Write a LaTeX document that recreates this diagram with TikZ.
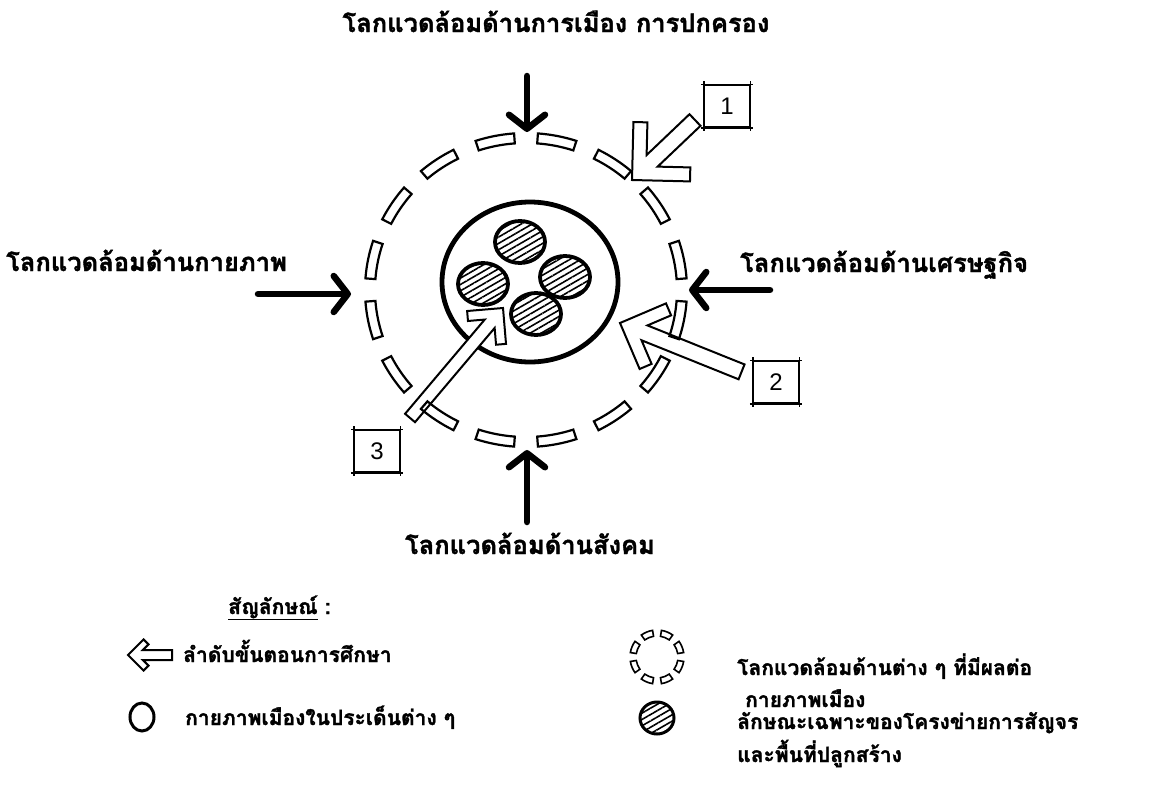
\documentclass[tikz,border=0pt]{standalone}
\usepackage{fontspec}
\setmainfont{Liberation Sans}
\newfontfamily\thai[Script=Thai, BoldFeatures={FakeBold=1.5}]{Loma}
\usetikzlibrary{arrows.meta,patterns.meta,calc}
\newcommand{\harrowshape}[6]{%
  \begin{scope}[shift={(#1)}, rotate=#2]
    \draw[harrowstyle] (0,0) -- ({-#5*0.7071},{#5*0.7071})
      -- ({-(#5+#6)*0.7071},{(#5-#6)*0.7071})
      -- ({-(1.4142*#6+#4)},{#4}) -- ({-#3},{#4}) -- ({-#3},{-#4})
      -- ({-(1.4142*#6+#4)},{-#4})
      -- ({-(#5+#6)*0.7071},{-(#5-#6)*0.7071})
      -- ({-#5*0.7071},{-#5*0.7071}) -- cycle;
  \end{scope}}
\tikzset{
  solidarrow/.style={line width=6.5pt, line cap=round, line join=round,
    -{Straight Barb[length=14pt,width=36pt,line cap=round,line join=round]}},
  harrowstyle/.style={draw=black, fill=white, line width=2pt, line join=miter},
  dashseg/.style={draw=black, line width=2.2pt},
  hatchdisk/.style={draw=black, line width=3.8pt,
    pattern={Lines[angle=30,distance=5.5pt,line width=1.6pt]}},
  lbl/.style={font=\thai\bfseries\fontsize{25.5}{30}\selectfont, inner sep=0pt},
  leg/.style={font=\thai\bfseries\fontsize{21}{26}\selectfont, inner sep=0pt, anchor=base west},
  numbox/.style={draw, line width=1.5pt, minimum width=45pt, minimum height=42pt,
    inner sep=0pt, font=\fontsize{24}{24}\selectfont},
  overhang/.style={line width=1.5pt, shorten <=-3pt, shorten >=-3pt},
}
\begin{document}
\begin{tikzpicture}[x=1pt,y=1pt]
\useasboundingbox[fill=white] (0,0) rectangle (1157,-798);

% labels
\node[lbl, anchor=base] (ltop) at (556,-32) {โลกแวดล้อมด้านการเมือง การปกครอง};
\node[lbl, anchor=base west] (lleft) at (6,-271) {โลกแวดล้อมด้านกายภาพ};
\node[lbl, anchor=base west] (lright) at (740,-272) {โลกแวดล้อมด้านเศรษฐกิจ};
\node[lbl, anchor=base] (lbottom) at (530,-554) {โลกแวดล้อมด้านสังคม};

% solid arrows
\coordinate (tA) at (527,-76);  \coordinate (tB) at (527,-132);
\coordinate (lA) at (258,-294); \coordinate (lB) at (351,-294);
\coordinate (rA) at (770,-290); \coordinate (rB) at (689,-290);
\coordinate (bA) at (527,-522); \coordinate (bB) at (527,-450);
\draw[solidarrow] (tA) -- (tB);
\draw[solidarrow] (lA) -- (lB);
\draw[solidarrow] (rA) -- (rB);
\draw[solidarrow] (bA) -- (bB);

% inner city circle
\draw[line width=4.8pt] (530,-282) ellipse[x radius=88, y radius=80];
\foreach \p in {(520,-242),(565,-277),(483,-284),(536,-314)}
  \draw[hatchdisk] \p ellipse[x radius=25, y radius=21];

% hollow study-step arrows
\coordinate (a1) at (632,-180);
\coordinate (a2) at (620,-323);
\coordinate (a3) at (503,-308);
\harrowshape{a1}{223.6}{87}{8}{58}{14}
\harrowshape{a2}{158.1}{131}{8}{50}{13}
\harrowshape{a3}{49.8}{144}{6.5}{36}{10}

% dashed environment ring
\begin{scope}[shift={(526,-290)}]
\foreach \t in {11.25,33.75,...,348.75}
  \draw[dashseg] ({\t-7}:161 and 157) arc[start angle={\t-7}, end angle={\t+7}, x radius=161, y radius=157]
    -- ({\t+7}:151 and 147) arc[start angle={\t+7}, end angle={\t-7}, x radius=151, y radius=147] -- cycle;
\end{scope}

% number boxes
\node[numbox] (b1) at (727,-106) {1};
\node[numbox] (b2) at (776,-382) {2};
\node[numbox] (b3) at (377,-451) {3};
\foreach \b in {b1,b2,b3} {
  \draw[overhang] (\b.north west) -- (\b.north east);
  \draw[overhang] (\b.south west) -- (\b.south east);
  \draw[overhang] (\b.north west) -- (\b.south west);
  \draw[overhang] (\b.north east) -- (\b.south east);
}

% legend
\node[leg] (legtitle) at (228,-614) {\underline{สัญลักษณ์} :};
\coordinate (la) at (128,-655);
\harrowshape{la}{180}{44}{5}{22}{7}
\node[leg] (leg1) at (183,-662) {ลำดับขั้นตอนการศึกษา};
\draw[line width=3pt] (142,-717) ellipse[x radius=12, y radius=14];
\node[leg] (leg2) at (185,-725) {กายภาพเมืองในประเด็นต่าง ๆ};

\begin{scope}[shift={(657,-657)}]
\foreach \t in {22.5,67.5,...,337.5}
  \draw[line width=1.6pt] ({\t-13}:27) arc[start angle={\t-13}, end angle={\t+13}, radius=27]
    -- ({\t+13}:21) arc[start angle={\t+13}, end angle={\t-13}, radius=21] -- cycle;
\end{scope}
\node[leg] (leg3a) at (737,-675) {โลกแวดล้อมด้านต่าง ๆ ที่มีผลต่อ};
\node[leg] (leg3b) at (745,-707) {กายภาพเมือง};
\draw[hatchdisk, line width=3pt] (657,-718) ellipse[x radius=17, y radius=16];
\node[leg] (leg4a) at (737,-729) {ลักษณะเฉพาะของโครงข่ายการสัญจร};
\node[leg] (leg4b) at (737,-762) {และพื้นที่ปลูกสร้าง};
\end{tikzpicture}
\end{document}
